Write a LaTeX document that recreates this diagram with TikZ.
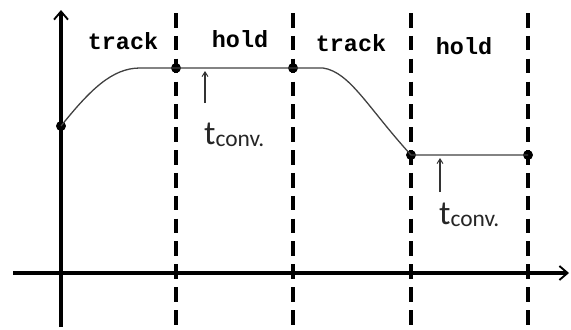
\documentclass[tikz,border=0pt]{standalone}
\usepackage{fontspec}
\setmainfont{Liberation Serif}
\newfontfamily\monofnt{Liberation Mono}
\newfontfamily\calfnt{Carlito}
\usetikzlibrary{arrows.meta}
\begin{document}
\begin{tikzpicture}[x=0.03cm,y=-0.03cm,
  axis/.style={line width=2.6pt,-{Straight Barb[length=7pt,width=12pt,line width=1.6pt]}},
  divider/.style={line width=2.6pt,dash pattern=on 12.5pt off 7pt},
  sig/.style={line width=1.1pt,draw=black!75},
  dot/.style={circle,fill=black,inner sep=0pt,minimum size=8.5pt},
  phase/.style={font=\monofnt\bfseries\fontsize{20}{20}\selectfont,anchor=base,inner sep=0pt},
  tlabel/.style={font=\calfnt,anchor=base west,inner sep=0pt,text=black!85},
  convarrow/.style={line width=1.1pt,draw=black!80,-{Straight Barb[length=4pt,width=5pt,line width=0.8pt]}}]
\useasboundingbox (0,0) rectangle (571,329);
% dividers
\foreach \n/\x in {d1/176,d2/293,d3/411,d4/528}{
  \coordinate (\n t) at (\x,13);
  \coordinate (\n b) at (\x,327);
  \draw[divider] (\n t) -- (\n b);
}
% axes
\coordinate (yb) at (61,327);
\coordinate (yt) at (61,10);
\coordinate (xl) at (13,273);
\coordinate (xr) at (569,273);
\draw[axis] (yb) -- (yt);
\draw[axis] (xl) -- (xr);
% phase labels
\node[phase] (l1) at (123,49) {track};
\node[phase] (l2) at (240,47) {hold};
\node[phase] (l3) at (351,51) {track};
\node[phase] (l4) at (464,54) {hold};
% signal
\node[dot] (p1) at (61,126) {};
\node[dot] (p2) at (176,68) {};
\node[dot] (p3) at (293,68) {};
\node[dot] (p4) at (411,155) {};
\node[dot] (p5) at (528,155) {};
\coordinate (c1) at (140,68);
\coordinate (c2) at (323,68);
\draw[sig] (p1.center) .. controls (90,90) and (112,68) .. (c1) -- (p2.center) -- (p3.center) -- (c2)
  .. controls (350,72) and (368,108) .. (p4.center) -- (p5.center);
% conversion markers
\coordinate (a1b) at (205,103);
\coordinate (a1t) at (205,71);
\coordinate (a2b) at (440,192);
\coordinate (a2t) at (440,158);
\draw[convarrow] (a1b) -- (a1t);
\draw[convarrow] (a2b) -- (a2t);
\node[tlabel] (t1) at (204,144) {\fontsize{29}{29}\selectfont t\fontsize{20}{20}\selectfont\raisebox{-2.5pt}{conv.}};
\node[tlabel] (t2) at (439,224) {\fontsize{29}{29}\selectfont t\fontsize{20}{20}\selectfont\raisebox{-2.5pt}{conv.}};
\end{tikzpicture}
\end{document}
